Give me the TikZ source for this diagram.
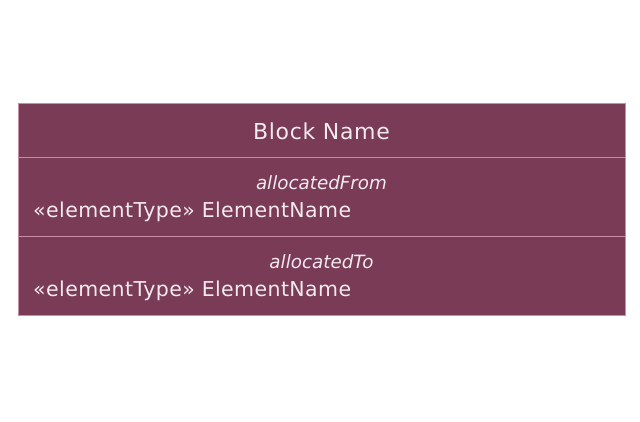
\documentclass[tikz,border=0pt]{standalone}
\usepackage{fontspec}
\setmainfont{DejaVu Sans}
\newfontfamily\titlefont[LetterSpace=3]{DejaVu Sans}
\newfontfamily\entryfont[LetterSpace=2]{DejaVu Sans}
\usetikzlibrary{positioning}
\definecolor{blockfill}{HTML}{793B55}
\definecolor{blockline}{HTML}{C98BA6}
\definecolor{blocktext}{HTML}{F3EAEE}
\tikzset{
  compartment/.style={draw=blockline,fill=blockfill,minimum width=607pt,inner sep=0pt,anchor=north west},
  label/.style={text=blocktext,inner sep=0pt},
  title/.style={label,font=\titlefont\fontsize{22}{26}\selectfont},
  entry/.style={label,anchor=west,font=\entryfont\fontsize{20.5}{24}\selectfont},
  tag/.style={label,font=\fontsize{18.3}{21}\selectfont\itshape}
}
\begin{document}
\begin{tikzpicture}[x=1pt,y=-1pt]
  \useasboundingbox (0,0) rectangle (640,422);

  \node[compartment,minimum height=54pt] (head) at (18,103) {};
  \node[compartment,minimum height=79pt] (from) at (18,157) {};
  \node[compartment,minimum height=79pt] (to) at (18,236) {};

  \node[title] (name) at (321.5,131.5) {Block Name};

  \node[tag] (fromtag) at (321.5,183) {allocatedFrom};
  \node[entry] (fromelem) at (33,211.5) {«elementType» ElementName};

  \node[tag] (totag) at (321.5,262) {allocatedTo};
  \node[entry] (toelem) at (33,290.5) {«elementType» ElementName};

\end{tikzpicture}
\end{document}
